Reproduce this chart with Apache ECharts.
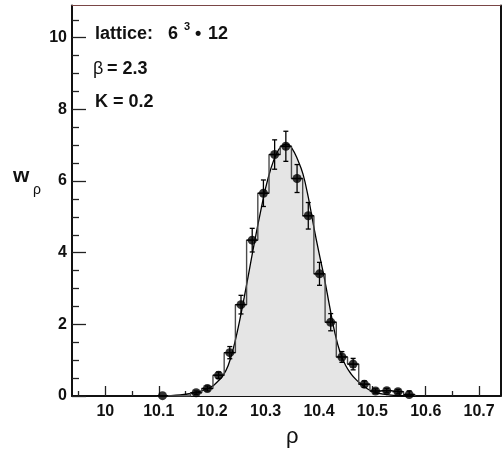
<!DOCTYPE html>
<html><head><meta charset="utf-8">
<script src="https://cdn.jsdelivr.net/npm/echarts@6/dist/echarts.min.js"></script>
<style>html,body{margin:0;padding:0;background:#fff}#c{width:502px;height:452px}</style>
</head><body><div id="c"></div>
<script>
// ---- data ----
const binCenters = [10.107,10.128,10.149,10.170,10.191,10.212,10.233,10.254,10.275,10.296,10.317,10.338,10.359,10.380,10.401,10.422,10.443,10.464,10.485,10.506,10.527,10.548,10.569];
const binValues  = [0.01,null,null,0.09,0.21,0.58,1.21,2.55,4.35,5.66,6.74,6.97,6.07,5.03,3.41,2.06,1.09,0.89,0.33,0.14,0.15,0.12,0.04];
const binErrors  = [0,null,null,0.05,0.07,0.09,0.17,0.26,0.33,0.37,0.41,0.42,0.39,0.37,0.32,0.24,0.15,0.16,0.09,0.06,0.06,0.06,0.1];
const curveX = [10.10,10.12,10.14,10.16,10.18,10.20,10.21,10.22,10.23,10.24,10.25,10.26,10.27,10.28,10.29,10.30,10.31,10.32,10.33,10.34,10.35,10.36,10.37,10.38,10.39,10.40,10.41,10.42,10.43,10.44,10.45,10.46,10.47,10.48,10.49,10.50,10.52,10.54,10.56,10.58];
const curveY = [0.00,0.01,0.03,0.07,0.14,0.27,0.40,0.56,0.85,1.35,2.0,2.75,3.55,4.35,5.1,5.8,6.35,6.75,6.98,7.03,6.9,6.6,6.2,5.55,4.75,4.0,3.3,2.5,1.75,1.2,0.85,0.62,0.45,0.32,0.21,0.13,0.05,0.02,0.01,0.0];
const xMajorTicks = [10,10.1,10.2,10.3,10.4,10.5,10.6,10.7];
const xMinorTicks = [9.95,10.05,10.15,10.25,10.35,10.45,10.55,10.65];
const yMajorTicks = [0,2,4,6,8,10];
const yMinorTicks = [0.5,1,1.5,2.5,3,3.5,4.5,5,5.5,6.5,7,7.5,8.5,9,9.5,10.5];

// ---- derived structures ----
const binW = (binCenters[binCenters.length-1]-binCenters[0])/(binCenters.length-1);
const stepData = [[binCenters[0]-binW/2, 0]];
binCenters.forEach((c,i)=>stepData.push([c-binW/2, binValues[i]==null?0:binValues[i]]));
stepData.push([binCenters[binCenters.length-1]+binW/2, 0]);
const pts = [];
binCenters.forEach((c,i)=>{ if(binValues[i]!=null) pts.push([c, binValues[i], binErrors[i], binW]); });
const curve = curveX.map((x,i)=>[x,curveY[i]]);

const FONT = 'Liberation Sans, Arial, Helvetica, sans-serif';
const XMIN = 9.9375, XMAX = 10.74, YMIN = 0, YMAX = 10.9;

const chart = echarts.init(document.getElementById('c'), null, {renderer:'canvas'});
const xBase = {type:'value', min:XMIN, max:XMAX, splitLine:{show:false}};
const yBase = {type:'value', min:YMIN, max:YMAX, splitLine:{show:false}};
const option = {
  animation:false,
  backgroundColor:'#fff',
  grid:{left:72, right:1.5, top:5.5, bottom:56},
  xAxis:[
    Object.assign({}, xBase, {position:'bottom',
      axisLine:{show:true, onZero:false, lineStyle:{color:'#111', width:2}},
      axisTick:{show:true, inside:true, length:10, customValues:xMajorTicks, lineStyle:{color:'#222', width:1.3}},
      axisLabel:{show:true, customValues:xMajorTicks, formatter:v=>String(v), margin:8,
        fontFamily:FONT, fontWeight:'bold', fontSize:16, color:'#111'}}),
    Object.assign({}, xBase, {position:'bottom',
      axisLine:{show:false},
      axisTick:{show:true, inside:true, length:5, customValues:xMinorTicks, lineStyle:{color:'#222', width:1.3}},
      axisLabel:{show:false}}),
    Object.assign({}, xBase, {position:'top',
      axisLine:{show:true, onZero:false, lineStyle:{color:'#7a4646', width:1}},
      axisTick:{show:false}, axisLabel:{show:false}})
  ],
  yAxis:[
    Object.assign({}, yBase, {position:'left',
      axisLine:{show:true, onZero:false, lineStyle:{color:'#111', width:2}},
      axisTick:{show:true, inside:true, length:14, customValues:yMajorTicks, lineStyle:{color:'#222', width:1.3}},
      axisLabel:{show:true, customValues:yMajorTicks, formatter:v=>String(v), margin:5,
        fontFamily:FONT, fontWeight:'bold', fontSize:16, color:'#111'}}),
    Object.assign({}, yBase, {position:'left',
      axisLine:{show:false},
      axisTick:{show:true, inside:true, length:7, customValues:yMinorTicks, lineStyle:{color:'#222', width:1.3}},
      axisLabel:{show:false}}),
    Object.assign({}, yBase, {position:'right',
      axisLine:{show:true, onZero:false, lineStyle:{color:'#111', width:2}},
      axisTick:{show:false}, axisLabel:{show:false}})
  ],
  series:[
    {type:'line', xAxisIndex:0, yAxisIndex:0, data:curve, smooth:0.4, symbol:'none',
      lineStyle:{color:'#000', width:1.3}, areaStyle:{color:'#e5e5e5', opacity:1}, z:2},
    {type:'line', xAxisIndex:0, yAxisIndex:0, data:stepData, step:'end', symbol:'none',
      lineStyle:{color:'#4a4a4a', width:1.4}, z:3},
    {type:'custom', xAxisIndex:0, yAxisIndex:0, data:pts, z:4,
      renderItem:(params, api)=>{
        const x=api.value(0), y=api.value(1), e=api.value(2), w=api.value(3);
        const c=[];
        const l=api.coord([x-w/2,y]), r=api.coord([x+w/2,y]);
        c.push({type:'line', shape:{x1:l[0],y1:l[1],x2:r[0],y2:r[1]}, style:{stroke:'#000', lineWidth:1.3}});
        if(e>0){
          const t=api.coord([x,y+e]), b=api.coord([x,Math.max(0,y-e)]);
          c.push({type:'line', shape:{x1:t[0],y1:t[1],x2:b[0],y2:b[1]}, style:{stroke:'#000', lineWidth:1.3}});
          c.push({type:'line', shape:{x1:t[0]-2.5,y1:t[1],x2:t[0]+2.5,y2:t[1]}, style:{stroke:'#000', lineWidth:1.3}});
          c.push({type:'line', shape:{x1:b[0]-2.5,y1:b[1],x2:b[0]+2.5,y2:b[1]}, style:{stroke:'#000', lineWidth:1.3}});
        }
        return {type:'group', children:c};
      }},
    {type:'scatter', xAxisIndex:0, yAxisIndex:0, data:pts.map(p=>[p[0],p[1]]), symbol:'circle', symbolSize:9,
      itemStyle:{color:'#000'}, z:5}
  ],
  graphic:[
    {type:'text', left:95, top:25, style:{text:'lattice:', font:'bold 18px '+FONT, fill:'#111'}},
    {type:'text', left:168, top:25, style:{text:'6', font:'bold 18px '+FONT, fill:'#111'}},
    {type:'text', left:184, top:21, style:{text:'3', font:'bold 11px '+FONT, fill:'#111'}},
    {type:'text', left:195, top:25, style:{text:'•', font:'bold 18px '+FONT, fill:'#111'}},
    {type:'text', left:208, top:25, style:{text:'12', font:'bold 18px '+FONT, fill:'#111'}},
    {type:'text', left:93, top:60, style:{text:'β', font:'18px '+FONT, fill:'#111'}},
    {type:'text', left:107, top:60, style:{text:'= 2.3', font:'bold 18px '+FONT, fill:'#111'}},
    {type:'text', left:95, top:93, style:{text:'K = 0.2', font:'bold 18px '+FONT, fill:'#111'}},
    {type:'text', left:13, top:166, style:{text:'w', font:'bold 21px '+FONT, fill:'#111'}},
    {type:'text', left:33, top:183, style:{text:'ρ', font:'14px '+FONT, fill:'#111'}},
    {type:'text', left:286, top:426, style:{text:'ρ', font:'22px '+FONT, fill:'#111'}}
  ]
};
chart.setOption(option);
</script></body></html>
